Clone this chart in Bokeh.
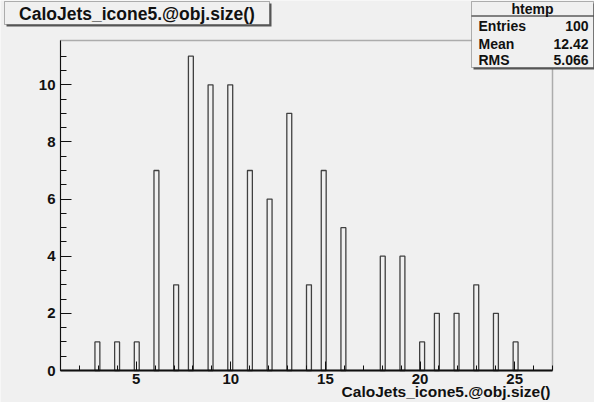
import numpy as np
from bokeh.plotting import figure
from bokeh.models import Range1d, FixedTicker, Label, BoxAnnotation
from bokeh.embed import file_html
from bokeh.resources import INLINE

# ---- data ----
values = [3, 4, 5, 6, 7, 8, 9, 10, 11, 12, 13, 14, 15, 16, 17, 18, 19, 20, 21, 22, 23, 24, 25]
counts = [1, 1, 1, 7, 3, 11, 10, 10, 7, 6, 9, 3, 7, 5, 0, 4, 4, 1, 2, 2, 3, 2, 1]
n_bins = 100
x_min, x_max = 1, 27
y_max = 11.55
x_major = [5, 10, 15, 20, 25]
x_minor = list(range(1, 28))
y_major = [0, 2, 4, 6, 8, 10]
y_minor = [i * 0.5 for i in range(0, 23)]
title_text = "CaloJets_icone5.@obj.size()"
axis_title = "CaloJets_icone5.@obj.size()"
hist_name = "htemp"
stats_names = ["Entries", "Mean", "RMS"]
stats_values = ["100", "12.42", "5.066"]

# ROOT-like binning: 100 bins over [1, 27]
width_bin = (x_max - x_min) / n_bins
idx = np.floor((np.array(values) - x_min) / width_bin + 1e-9).astype(int)
hist = np.zeros(n_bins)
for i, c in zip(idx, counts):
    hist[i] += c
edges = x_min + width_bin * np.arange(n_bins + 1)
nz = hist > 0

# ---- layout (canvas pixels) ----
W, H = 594, 402
FL, FR, FT, FB = 60, 552, 40, 370   # ROOT frame position inside the canvas
BG = "#f0f0f0"
FONT = "Liberation Sans"
INK = "#111111"

# whole canvas is the Bokeh frame; ranges chosen so the ROOT frame lands at FL..FR / FT..FB
ux = (x_max - x_min) / (FR - FL)
uy = y_max / (FB - FT)
x_range = Range1d(x_min - FL * ux, x_max + (W - FR) * ux)
y_range = Range1d(0 - (H - FB) * uy, y_max + FT * uy)

p = figure(width=W, height=H, x_range=x_range, y_range=y_range,
           output_backend="svg", toolbar_location=None, min_border=0)
p.background_fill_color = BG
p.border_fill_color = BG
p.outline_line_color = None
p.grid.visible = False

p.quad(left=edges[:-1][nz], right=edges[1:][nz], bottom=0, top=hist[nz],
       fill_color=None, line_color="#404040", line_width=1.3)

# axes drawn inside the canvas at the ROOT frame edges
p.xaxis.fixed_location = 0
p.yaxis.fixed_location = x_min
p.xaxis.bounds = (x_min, x_max)
p.yaxis.bounds = (0, y_max)
p.xaxis.ticker = FixedTicker(ticks=x_major, minor_ticks=x_minor)
p.yaxis.ticker = FixedTicker(ticks=y_major, minor_ticks=y_minor)
for ax in (p.xaxis, p.yaxis):
    ax.major_tick_out = 0
    ax.minor_tick_out = 0
    ax.axis_line_color = INK
    ax.major_tick_line_color = INK
    ax.minor_tick_line_color = INK
    ax.major_label_text_font = FONT
    ax.major_label_text_font_style = "bold"
    ax.major_label_text_font_size = "15px"
    ax.major_label_text_color = INK
p.xaxis.major_tick_in = 9
p.xaxis.minor_tick_in = 5
p.xaxis.axis_line_width = 2
p.xaxis.major_label_standoff = 3
p.yaxis.major_tick_in = 11
p.yaxis.minor_tick_in = 6
p.yaxis.major_label_standoff = 5

# ROOT frame box
p.add_layout(BoxAnnotation(left=x_min, right=x_max, bottom=0, top=y_max,
                           fill_color=None, line_color=INK, line_width=1.5))


def box(l, r, t, b, fill=BG, line=INK, lw=1):
    p.add_layout(BoxAnnotation(left=l, right=r, top=t, bottom=b,
                               left_units="canvas", right_units="canvas",
                               top_units="canvas", bottom_units="canvas",
                               fill_color=fill, fill_alpha=1, line_color=line, line_width=lw))


def label(x, y, text, size, align="left", style="bold"):
    p.add_layout(Label(x=x, y=y, x_units="canvas", y_units="canvas", text=text,
                       text_font=FONT, text_font_size=size, text_font_style=style,
                       text_align=align, text_baseline="middle", text_color=INK))


# title box with shadow
box(6, 271, 3, 26, fill="#555555", line=None)
box(4, 269, 1, 24)
label(136.5, 13, title_text, "17.5px", align="center")

# stats box with shadow
box(473, 595, 3, 69, fill="#555555", line=None)
box(471, 593, 1, 67)
box(471, 593, 15, 16, fill=INK, line=None)
label(532, 8, hist_name, "14px", align="center")
rows_y = [25, 43, 59]
for name, val, yy in zip(stats_names, stats_values, rows_y):
    label(478, yy, name, "14px", align="left")
    label(588, yy, val, "14px", align="right")

# x-axis title, right aligned to frame end
label(550, 391, axis_title, "15.5px", align="right")

open("out.html", "w").write(file_html(p, INLINE))
